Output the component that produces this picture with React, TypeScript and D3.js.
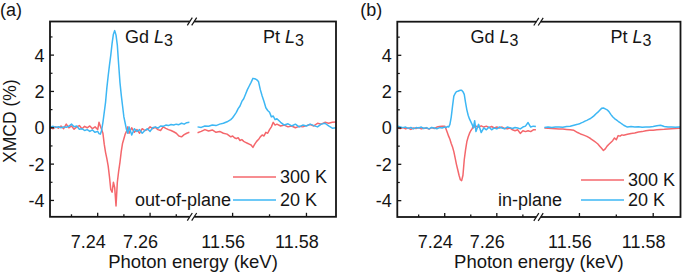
import React from "react";
import * as d3 from "d3";

// ---------- data ----------
const gdEnergy = [
  7.2220, 7.2230, 7.2240, 7.2250, 7.2260, 7.2270, 7.2280, 7.2290, 7.2300, 7.2310,
  7.2320, 7.2330, 7.2340, 7.2350, 7.2360, 7.2370, 7.2380, 7.2390, 7.2400,
  7.2405, 7.2410, 7.2415, 7.2420, 7.2425, 7.2430, 7.2435, 7.2440, 7.2445, 7.2450,
  7.2455, 7.2460, 7.2465, 7.2470, 7.2475, 7.2480, 7.2485, 7.2490, 7.2495, 7.2500,
  7.2505, 7.2510, 7.2515, 7.2520,
  7.2530, 7.2540, 7.2550, 7.2560, 7.2570, 7.2580, 7.2590, 7.2600, 7.2610, 7.2620,
  7.2630, 7.2640, 7.2650, 7.2660, 7.2670, 7.2680, 7.2690, 7.2700, 7.2710, 7.2720,
  7.2730, 7.2740, 7.2750,
];

const ptEnergy = [
  11.5505, 11.5515, 11.5525, 11.5535, 11.5545, 11.5555, 11.5565, 11.5575, 11.5585, 11.5595,
  11.5600, 11.5605, 11.5610, 11.5615, 11.5620, 11.5625, 11.5630, 11.5635, 11.5640, 11.5645,
  11.5650, 11.5655, 11.5660, 11.5665, 11.5670, 11.5675, 11.5680, 11.5685, 11.5690, 11.5695,
  11.5700, 11.5705, 11.5710, 11.5715, 11.5720,
  11.5730, 11.5740, 11.5750, 11.5760, 11.5770, 11.5780, 11.5790, 11.5800, 11.5810, 11.5820,
  11.5830, 11.5840, 11.5850, 11.5860, 11.5870, 11.5880,
];

// (a) out-of-plane, Gd L3
const gdOut20K = [
  0.05, 0.08, 0.02, 0.06, 0.00, 0.05, 0.03, 0.08, 0.20, 0.06,
  0.10, -0.08, -0.05, -0.15, -0.10, -0.20, -0.12, -0.25, -0.20,
  -0.32, -0.35, -0.15, 0.30, 0.85, 1.40, 2.20, 2.85, 3.45, 4.00,
  4.65, 5.15, 5.35, 5.10, 4.55, 3.50, 2.50, 1.80, 1.20, 0.60,
  0.25, -0.10, -0.30, 0.05,
  -0.40, -0.05, -0.20, -0.10, -0.30, -0.15, -0.05, -0.20, 0.00, 0.05,
  -0.02, 0.10, 0.08, 0.15, 0.12, 0.18, 0.15, 0.20, 0.17, 0.25,
  0.20, 0.28, 0.30,
];
const gdOut300K = [
  0.00, -0.05, 0.05, -0.02, 0.10, -0.05, 0.20, 0.00, 0.10, -0.08,
  0.05, 0.12, -0.05, 0.08, 0.00, 0.10, -0.05, 0.05, -0.10,
  0.30, 0.10, -0.10, -0.30, -0.90, -1.35, -1.70, -2.10, -2.70, -3.40,
  -3.55, -3.00, -3.30, -4.30, -3.00, -2.40, -1.90, -1.30, -0.85, -0.60,
  -0.35, -0.20, 0.05, -0.30,
  0.00, -0.25, -0.10, -0.30, -0.05, -0.15, -0.10, 0.05, -0.05, 0.02,
  -0.10, -0.15, 0.05, -0.03, -0.10, -0.15, -0.22, -0.30, -0.45, -0.50,
  -0.38, -0.30, -0.25,
];
// (a) out-of-plane, Pt L3
const ptOut20K = [
  0.05, 0.02, 0.10, 0.08, 0.15, 0.12, 0.20, 0.25, 0.33, 0.45,
  0.55, 0.70, 0.85, 1.05, 1.20, 1.45, 1.60, 1.85, 2.10, 2.30,
  2.50, 2.72, 2.70, 2.65, 2.55, 2.10, 1.75, 1.45, 1.10, 0.95,
  0.85, 0.60, 0.65, 0.45, 0.50,
  0.30, 0.15, 0.22, 0.10, 0.20, 0.05, 0.15, 0.10, 0.20, 0.12,
  0.05, 0.20, 0.25, 0.10, -0.02, 0.00,
];
const ptOut300K = [
  -0.27, -0.20, -0.10, -0.18, -0.12, -0.25, -0.20, -0.30, -0.35, -0.50,
  -0.45, -0.55, -0.60, -0.55, -0.70, -0.65, -0.75, -0.80, -0.85, -0.90,
  -0.95, -1.08, -0.90, -0.75, -0.65, -0.50, -0.40, -0.45, -0.25, -0.30,
  -0.10, 0.05, 0.30, 0.15, 0.20,
  0.10, 0.15, 0.05, 0.10, 0.00, 0.08, 0.05, 0.12, 0.18, 0.10,
  0.25, 0.20, 0.30, 0.25, 0.30, 0.32,
];

// (b) in-plane, Gd L3
const gdIn20K = [
  0.10, 0.05, 0.02, 0.05, -0.02, 0.03, -0.05, 0.02, 0.00, 0.05,
  -0.03, 0.02, -0.05, 0.03, 0.00, -0.04, 0.02, 0.00, 0.05,
  0.02, 0.08, 0.05, 0.20, 0.60, 1.20, 1.75, 1.90, 2.00, 2.02,
  2.05, 2.08, 2.08, 2.00, 1.85, 1.40, 1.00, 0.70, 0.50, 0.35,
  0.20, 0.00, 0.40, -0.20,
  0.20, -0.25, 0.00, -0.10, 0.05, -0.10, 0.00, -0.05, 0.05, 0.00,
  -0.05, 0.05, 0.02, -0.03, 0.03, 0.00, -0.05, 0.05, 0.10, 0.30,
  0.05, 0.10, 0.08,
];
const gdIn300K = [
  0.00, -0.03, 0.02, -0.05, 0.00, -0.08, 0.00, -0.03, 0.02, -0.05,
  -0.02, 0.00, -0.06, 0.02, -0.03, 0.05, 0.08, 0.10, 0.10,
  -0.05, -0.25, -0.45, -0.62, -0.85, -1.05, -1.30, -1.65, -2.00, -2.30,
  -2.60, -2.85, -2.90, -2.60, -1.75, -1.20, -0.75, -0.50, -0.30, -0.15,
  -0.05, 0.10, 0.05, 0.10,
  0.05, 0.12, 0.05, 0.10, 0.02, 0.08, 0.00, 0.05, 0.00, 0.05,
  -0.02, -0.05, 0.00, -0.10, -0.15, -0.10, -0.30, -0.15, -0.20, -0.15,
  -0.20, -0.10, -0.10,
];
// (b) in-plane, Pt L3
const ptIn20K = [
  0.03, 0.05, 0.02, 0.05, 0.06, 0.04, 0.08, 0.10, 0.15, 0.20,
  0.23, 0.28, 0.32, 0.38, 0.42, 0.47, 0.52, 0.60, 0.68, 0.78,
  0.87, 0.98, 1.08, 1.10, 1.05, 1.00, 0.90, 0.75, 0.62, 0.52,
  0.45, 0.37, 0.30, 0.22, 0.15,
  0.05, 0.08, 0.05, 0.07, 0.04, 0.06, 0.05, 0.08, 0.12, 0.15,
  0.08, 0.05, 0.06, 0.04, 0.05, 0.05,
];
const ptIn300K = [
  0.00, -0.02, -0.03, -0.04, -0.05, -0.06, -0.08, -0.10, -0.13, -0.25,
  -0.30, -0.35, -0.38, -0.42, -0.46, -0.52, -0.58, -0.65, -0.72, -0.80,
  -0.88, -1.00, -1.12, -1.24, -1.15, -1.00, -0.90, -0.80, -0.70, -0.55,
  -0.65, -0.42, -0.45, -0.38, -0.40,
  -0.35, -0.30, -0.28, -0.22, -0.20, -0.15, -0.12, -0.12, -0.10, -0.08,
  -0.07, -0.05, -0.04, -0.03, -0.02, -0.02,
];

const yMajorTicks = [-4, -2, 0, 2, 4];
const yMinorTicks = [-3, -1, 1, 3, 5];
const gdMajorTicks = [7.24, 7.26];
const gdMinorTicks = [7.23, 7.25, 7.27];
const ptMajorTicks = [11.56, 11.58];
const ptMinorTicks = [11.57];
const seriesNames = ["300 K", "20 K"];

// ---------- styling ----------
const RED = "#f4676c";
const BLUE = "#3db7f4";
const INK = "#151515";
const FONT = "'Liberation Sans', Arial, Helvetica, sans-serif";

type PanelProps = {
  id: string;
  letter: string;
  x0: number; xb: number; x1: number;
  yTop: number; yBot: number;
  gdDomain: [number, number];
  ptDomain: [number, number];
  gd20: number[]; gd300: number[]; pt20: number[]; pt300: number[];
  note: string; noteX: number;
  gdLabelX: number; ptLabelX: number;
  legX: number; legRedY: number; legBlueY: number;
  yLabel: boolean;
};

function Panel(p: PanelProps) {
  const y = d3.scaleLinear().domain([-4.9, 5.85]).range([p.yBot, p.yTop]);
  const xGd = d3.scaleLinear().domain(p.gdDomain).range([p.x0, p.xb]);
  const xPt = d3.scaleLinear().domain(p.ptDomain).range([p.xb, p.x1]);

  const mk = (xs: d3.ScaleLinear<number, number>, es: number[], vs: number[]) =>
    d3.line<number>().x((_, i) => xs(es[i])).y((v) => y(v))(vs) || "";

  const clipId = `clip-${p.id}`;
  const lw = 1.8;
  const gap = 2.2;

  const breakMark = (yy: number) => (
    <g>
      <rect x={p.xb - gap} y={yy - 2} width={gap * 2} height={4} fill="#fff" />
      <line x1={p.xb - gap - 2.5} y1={yy + 3.8} x2={p.xb - gap + 2.5} y2={yy - 3.8} stroke={INK} strokeWidth={1.2} />
      <line x1={p.xb + gap - 2.5} y1={yy + 3.8} x2={p.xb + gap + 2.5} y2={yy - 3.8} stroke={INK} strokeWidth={1.2} />
    </g>
  );

  const xTicks = [
    ...gdMajorTicks.map((t) => ({ x: xGd(t), major: true, label: d3.format(".2f")(t) })),
    ...gdMinorTicks.map((t) => ({ x: xGd(t), major: false, label: "" })),
    ...ptMajorTicks.map((t) => ({ x: xPt(t), major: true, label: d3.format(".2f")(t) })),
    ...ptMinorTicks.map((t) => ({ x: xPt(t), major: false, label: "" })),
  ];

  return (
    <g fontFamily={FONT} fill={INK}>
      <defs>
        <clipPath id={clipId}>
          <rect x={p.x0} y={p.yTop} width={p.x1 - p.x0} height={p.yBot - p.yTop} />
        </clipPath>
      </defs>
      <g clipPath={`url(#${clipId})`} fill="none" strokeWidth={1.5} strokeLinejoin="round">
        <path d={mk(xGd, gdEnergy, p.gd300)} stroke={RED} />
        <path d={mk(xPt, ptEnergy, p.pt300)} stroke={RED} />
        <path d={mk(xGd, gdEnergy, p.gd20)} stroke={BLUE} />
        <path d={mk(xPt, ptEnergy, p.pt20)} stroke={BLUE} />
      </g>

      {/* frame */}
      <rect x={p.x0} y={p.yTop} width={p.x1 - p.x0} height={p.yBot - p.yTop} fill="none" stroke={INK} strokeWidth={lw} />
      {breakMark(p.yTop)}
      {breakMark(p.yBot)}

      {/* y ticks */}
      {yMajorTicks.map((t) => (
        <g key={`ym${t}`}>
          <line x1={p.x0} x2={p.x0 + 4} y1={y(t)} y2={y(t)} stroke={INK} strokeWidth={1.3} />
          <text x={p.x0 - 5.5} y={y(t)} dy="0.36em" textAnchor="end" fontSize={18}>{t < 0 ? `-${Math.abs(t)}` : `${t}`}</text>
        </g>
      ))}
      {yMinorTicks.map((t) => (
        <line key={`yn${t}`} x1={p.x0} x2={p.x0 + 2.5} y1={y(t)} y2={y(t)} stroke={INK} strokeWidth={1.2} />
      ))}

      {/* x ticks */}
      {xTicks.map((t, i) => (
        <g key={`xt${i}`}>
          <line x1={t.x} x2={t.x} y1={p.yBot} y2={p.yBot - (t.major ? 4 : 2.5)} stroke={INK} strokeWidth={1.3} />
          {t.major && (
            <text x={t.x - 9.5} y={248} textAnchor="middle" fontSize={18}>{t.label}</text>
          )}
        </g>
      ))}

      <text x={(p.x0 + p.x1) / 2} y={268} textAnchor="middle" fontSize={18.5}>Photon energy (keV)</text>
      {p.yLabel && (
        <text transform={`translate(16,${(p.yTop + p.yBot) / 2 + 2}) rotate(-90)`} textAnchor="middle" fontSize={17.5}>XMCD (%)</text>
      )}

      <text x={p.x0 - 50 + (p.id === "a" ? 0 : 13)} y={15.5} fontSize={18}>{p.letter}</text>

      <text x={p.gdLabelX} y={43} fontSize={18}>
        Gd <tspan fontStyle="italic">L</tspan><tspan fontSize={16} dy={3}>3</tspan>
      </text>
      <text x={p.ptLabelX} y={43} fontSize={18}>
        Pt <tspan fontStyle="italic">L</tspan><tspan fontSize={16} dy={3}>3</tspan>
      </text>

      {/* legend */}
      <line x1={p.legX} x2={p.legX + 43} y1={p.legRedY} y2={p.legRedY} stroke={RED} strokeWidth={1.5} />
      <text x={p.legX + 47} y={p.legRedY} dy="0.36em" fontSize={18}>{seriesNames[0]}</text>
      <line x1={p.legX} x2={p.legX + 43} y1={p.legBlueY} y2={p.legBlueY} stroke={BLUE} strokeWidth={1.5} />
      <text x={p.legX + 47} y={p.legBlueY} dy="0.36em" fontSize={18}>{seriesNames[1]}</text>
      <text x={p.noteX} y={p.legBlueY} dy="0.36em" fontSize={18} textAnchor="end">{p.note}</text>
    </g>
  );
}

export default function App() {
  return (
    <svg
      width={685}
      height={274}
      viewBox="0 0 685 274"
      style={{ position: "absolute", left: 0, top: 0, background: "#fff" }}
    >
      <rect width={685} height={274} fill="#fff" />
      <Panel
        id="a" letter="(a)"
        x0={50} xb={192} x1={336} yTop={21.5} yBot={216.8}
        gdDomain={[7.2218, 7.2760]} ptDomain={[11.5490, 11.5880]}
        gd20={gdOut20K} gd300={gdOut300K} pt20={ptOut20K} pt300={ptOut300K}
        note="out-of-plane" noteX={231}
        gdLabelX={125} ptLabelX={263}
        legX={233} legRedY={177} legBlueY={200}
        yLabel={true}
      />
      <Panel
        id="b" letter="(b)"
        x0={397.3} xb={538.5} x1={680.5} yTop={21.7} yBot={217}
        gdDomain={[7.2218, 7.2760]} ptDomain={[11.5489, 11.5874]}
        gd20={gdIn20K} gd300={gdIn300K} pt20={ptIn20K} pt300={ptIn300K}
        note="in-plane" noteX={562}
        gdLabelX={470.5} ptLabelX={610.5}
        legX={581} legRedY={180} legBlueY={200}
        yLabel={false}
      />
    </svg>
  );
}
